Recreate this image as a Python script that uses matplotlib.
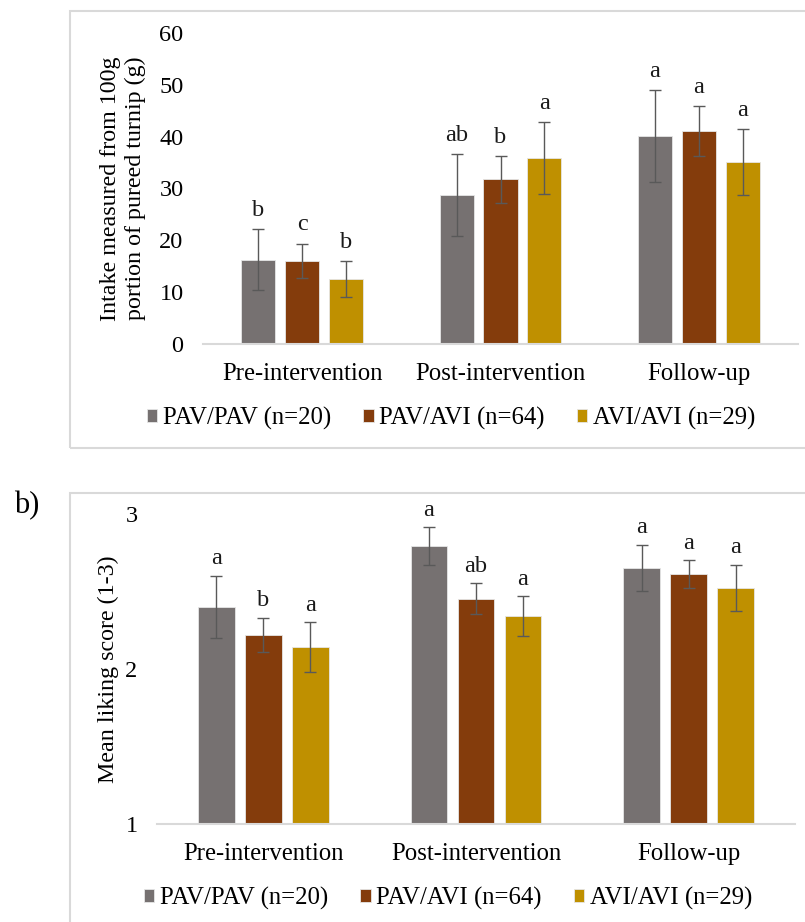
import numpy as np
import matplotlib
matplotlib.use("Agg")
import matplotlib.pyplot as plt
from matplotlib.patches import Rectangle

plt.rcParams['font.family'] = ['Liberation Serif', 'DejaVu Serif']

categories = ['Pre-intervention', 'Post-intervention', 'Follow-up']
groups = ['PAV/PAV (n=20)', 'PAV/AVI (n=64)', 'AVI/AVI (n=29)']
colors = ['#767171', '#843C0C', '#BF9000']

# Panel a) intake (g)
intake_pavpav = [16.2, 28.7, 40.1]
intake_pavavi = [16.0, 31.7, 41.0]
intake_aviavi = [12.4, 35.8, 35.0]
intake_err_pavpav = [5.9, 7.9, 8.9]
intake_err_pavavi = [3.3, 4.5, 4.8]
intake_err_aviavi = [3.5, 7.0, 6.4]
intake_letters_pavpav = ['b', 'ab', 'a']
intake_letters_pavavi = ['c', 'b', 'a']
intake_letters_aviavi = ['b', 'a', 'a']

# Panel b) liking
liking_pavpav = [2.40, 2.79, 2.65]
liking_pavavi = [2.22, 2.45, 2.61]
liking_aviavi = [2.14, 2.34, 2.52]
liking_err_pavpav = [0.20, 0.12, 0.15]
liking_err_pavavi = [0.11, 0.10, 0.09]
liking_err_aviavi = [0.16, 0.13, 0.15]
liking_letters_pavpav = ['a', 'a', 'a']
liking_letters_pavavi = ['b', 'ab', 'a']
liking_letters_aviavi = ['a', 'a', 'a']

W, H = 805, 922
fig = plt.figure(figsize=(W / 100, H / 100), dpi=100)

def fx(px):
    return px / W

def fy(py):
    return 1 - py / H

# panel borders
border = '#D9D9D9'
fig.patches.append(Rectangle((fx(69.5), fy(448)), 1.2, fy(11) - fy(448),
                             transform=fig.transFigure, fill=False,
                             edgecolor=border, linewidth=1.5))
fig.patches.append(Rectangle((fx(70), -0.2), 1.2, fy(493) + 0.2,
                             transform=fig.transFigure, fill=False,
                             edgecolor=border, linewidth=1.5))

ax1 = fig.add_axes([fx(203), fy(343.5), fx(798) - fx(203), fy(33) - fy(343.5)])
ax2 = fig.add_axes([fx(157), fy(824), fx(795) - fx(157), fy(513.5) - fy(824)])

FS = 17.8
TFS = 17.5
LFS = 17.5
YFS = 17.3


def draw(ax, vals, errs, letters, ylim, yticks, ylabel, ylabel_x, legend_y, legend_x, off):
    x = np.arange(len(categories))
    step = 0.221
    width = 0.173
    handles = []
    for i, (v, e, l, c, g) in enumerate(zip(vals, errs, letters, colors, groups)):
        xs = x + (i - 1) * step
        b = ax.bar(xs, v, width=width, color=c, edgecolor='#E6E6E6',
                   linewidth=0.6, label=g, zorder=2)
        ax.errorbar(xs, v, yerr=e, fmt='none', ecolor='#595959',
                    elinewidth=1.0, capsize=4.5, capthick=1.0, zorder=3)
        for xi, vi, ei, li in zip(xs, v, e, l):
            ax.annotate(li, (xi, vi + ei), xytext=(0, off), textcoords='offset points',
                        ha='center', va='bottom', fontsize=LFS, color='#1a1a1a')
        handles.append(b)
    ax.set_xlim(-0.5, len(categories) - 0.5)
    ax.set_ylim(*ylim)
    ax.set_yticks(yticks)
    ax.set_xticks(x)
    ax.set_xticklabels(categories, fontsize=FS)
    ax.tick_params(axis='y', length=0, pad=14, labelsize=TFS)
    ax.tick_params(axis='x', length=0, pad=14)
    for s in ['top', 'right', 'left']:
        ax.spines[s].set_visible(False)
    ax.spines['bottom'].set_color('#D9D9D9')
    ax.spines['bottom'].set_linewidth(1.5)
    ax.set_facecolor('none')
    fig.text(ylabel_x, ax.get_position().y0 + ax.get_position().height / 2, ylabel,
             rotation=90, ha='center', va='center', fontsize=YFS, linespacing=1.2,
             multialignment='center')
    fig.legend(handles=handles, labels=groups, loc='center',
               bbox_to_anchor=(legend_x, legend_y), ncol=3, frameon=False,
               fontsize=FS, handlelength=0.42, handleheight=0.42,
               handletextpad=0.22, columnspacing=1.3, borderpad=0)


draw(ax1,
     [intake_pavpav, intake_pavavi, intake_aviavi],
     [intake_err_pavpav, intake_err_pavavi, intake_err_aviavi],
     [intake_letters_pavpav, intake_letters_pavavi, intake_letters_aviavi],
     (0, 60), [0, 10, 20, 30, 40, 50, 60],
     'Intake measured from 100g\nportion of pureed turnip (g)',
     fx(123), fy(418), fx(451), 6)

draw(ax2,
     [liking_pavpav, liking_pavavi, liking_aviavi],
     [liking_err_pavpav, liking_err_pavavi, liking_err_aviavi],
     [liking_letters_pavpav, liking_letters_pavavi, liking_letters_aviavi],
     (1, 3), [1, 2, 3],
     'Mean liking score (1-3)',
     fx(108), fy(898), fx(448), 4.5)

fig.text(fx(14), fy(506), 'b)', fontsize=22, ha='left', va='center')

fig.savefig('out.png', dpi=100, facecolor='white')
